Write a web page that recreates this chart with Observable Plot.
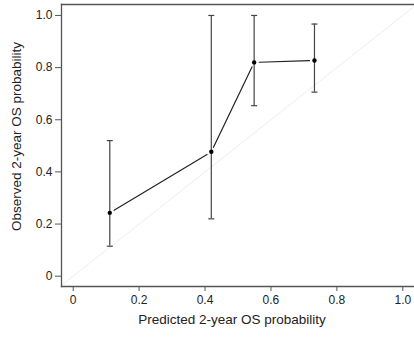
<!DOCTYPE html>
<html><head><meta charset="utf-8">
<script src="https://cdn.jsdelivr.net/npm/d3@7"></script>
<script src="https://cdn.jsdelivr.net/npm/@observablehq/plot@0.6"></script>
<style>body{margin:0;background:#fff;font-family:"Liberation Sans",Arial,sans-serif}</style>
</head><body><div id="chart"></div>
<script>
const predicted = [0.111, 0.419, 0.549, 0.732];
const observed = [0.243, 0.477, 0.820, 0.827];
const lower = [0.115, 0.220, 0.654, 0.706];
const upper = [0.520, 1.000, 1.000, 0.967];
const ticks = [0, 0.2, 0.4, 0.6, 0.8, 1.0];
const xLabel = "Predicted 2-year OS probability";
const yLabel = "Observed 2-year OS probability";

const pts = predicted.map((p, i) => ({p, o: observed[i], lo: lower[i], hi: upper[i]}));
const caps = pts.flatMap(d => [{p: d.p, v: d.lo}, {p: d.p, v: d.hi}]);
const segs = pts.slice(1).map((d, i) => ({x1: pts[i].p, y1: pts[i].o, x2: d.p, y2: d.o}));
const fmt = d => d === 0 ? "0" : d.toFixed(1);
const diag = [{x1: -0.0355, y1: -0.0355, x2: 1.0355, y2: 1.0355}];
const capSymbol = {draw(ctx, size) { ctx.moveTo(-3, 0); ctx.lineTo(3, 0); }};

const chart = Plot.plot({
  width: 414, height: 338,
  marginLeft: 61, marginTop: 4, marginBottom: 52, marginRight: 0,
  style: {fontFamily: "Liberation Sans, Arial, sans-serif", fontSize: "12px", color: "#222"},
  x: {domain: [-0.0355, 1.0355]},
  y: {domain: [-0.0395, 1.042]},
  marks: [
    Plot.link(diag, {x1: "x1", y1: "y1", x2: "x2", y2: "y2", stroke: "#eeeeee", strokeWidth: 1}),
    Plot.ruleX(pts, {x: "p", y1: "lo", y2: "hi", stroke: "#444", strokeWidth: 1.2}),
    Plot.dot(caps, {x: "p", y: "v", symbol: capSymbol, stroke: "#444", strokeWidth: 1.2, fill: "none"}),
    Plot.arrow(segs, {x1: "x1", y1: "y1", x2: "x2", y2: "y2", headLength: 0, insetStart: 5, insetEnd: 5, stroke: "#222", strokeWidth: 1.2}),
    Plot.dot(pts, {x: "p", y: "o", r: 2.2, fill: "#000", stroke: "none"}),
    Plot.frame({anchor: "right", stroke: "#e4e4e4", strokeWidth: 1}),
    Plot.frame({anchor: "top", stroke: "#555", strokeWidth: 1.3}),
    Plot.frame({anchor: "left", stroke: "#555", strokeWidth: 1.3}),
    Plot.frame({anchor: "bottom", stroke: "#555", strokeWidth: 1.3}),
    Plot.axisX({ticks, tickFormat: fmt, tickSize: 5, tickPadding: 4, label: null, stroke: "#555", fontSize: 12}),
    Plot.axisY({ticks, tickFormat: fmt, tickSize: 6, tickPadding: 3, label: null, stroke: "#555", fontSize: 12}),
    Plot.text([xLabel], {frameAnchor: "bottom", dy: 37, dx: -6, text: d => d, fontSize: 13.5, fill: "#222", textAnchor: "middle"}),
    Plot.text([yLabel], {frameAnchor: "left", dx: -45, dy: -9, rotate: -90, text: d => d, fontSize: 13.5, fill: "#222", textAnchor: "middle"})
  ]
});
document.getElementById("chart").append(chart);
</script></body></html>
